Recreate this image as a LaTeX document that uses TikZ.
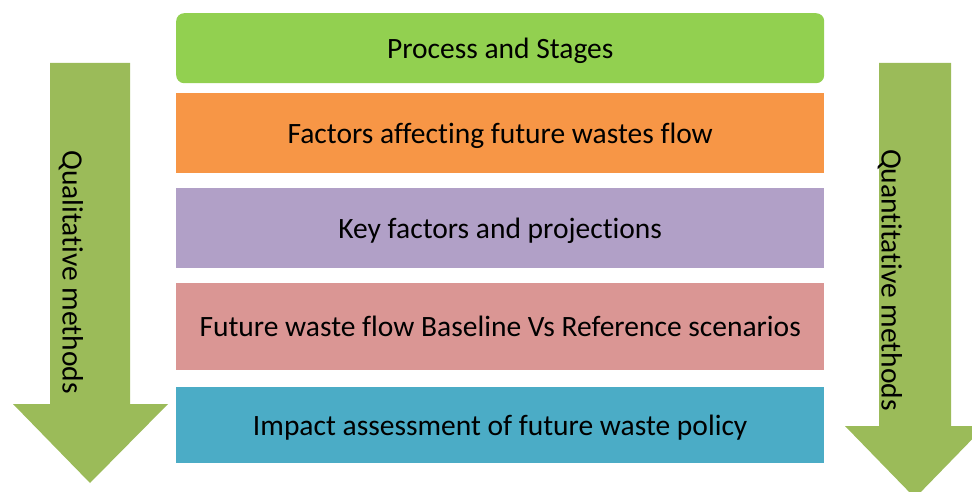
\documentclass[tikz,border=0pt]{standalone}
\usepackage{fontspec}
\setmainfont{Carlito}[Ligatures=NoCommon]
\definecolor{gbox}{HTML}{92D050}
\definecolor{obox}{HTML}{F79646}
\definecolor{pbox}{HTML}{B1A0C7}
\definecolor{rbox}{HTML}{DA9694}
\definecolor{bbox}{HTML}{4BACC6}
\definecolor{arr}{HTML}{9BBB59}
\begin{document}
\begin{tikzpicture}[x=1pt,y=-1pt,
  stage/.style={minimum width=648pt,anchor=north west,inner sep=0pt,text depth=0pt,font=\fontsize{29.5}{34}\selectfont,text=black},
  vlabel/.style={rotate=-90,font=\fontsize{29.5}{34}\selectfont,text=black,inner sep=0pt}]
\useasboundingbox (0,0) rectangle (972,492);
\clip (0,0) rectangle (972,492);
% arrows
\fill[arr] (50,63) -- (130,63) -- (130,404) -- (168,404) -- (90,483) -- (13,404) -- (50,404) -- cycle;
\fill[arr] (879,63) -- (951,63) -- (951,426) -- (985,426) -- (915,498) -- (845,426) -- (879,426) -- cycle;
\node[vlabel] (ql) at (71,272) {Qualitative methods};
\node[vlabel] (qn) at (890,280) {Quantitative methods};
% boxes
\node[stage,fill=gbox,minimum height=70pt,rounded corners=8pt] (s1) at (176,13) {Process and Stages};
\node[stage,fill=obox,minimum height=80pt] (s2) at (176,93) {Factors affecting future wastes flow};
\node[stage,fill=pbox,minimum height=80pt] (s3) at (176,188) {Key factors and projections};
\node[stage,fill=rbox,minimum height=87pt] (s4) at (176,283) {Future waste flow Baseline Vs Reference scenarios};
\node[stage,fill=bbox,minimum height=76pt] (s5) at (176,387) {Impact assessment of future waste policy};
\end{tikzpicture}
\end{document}
